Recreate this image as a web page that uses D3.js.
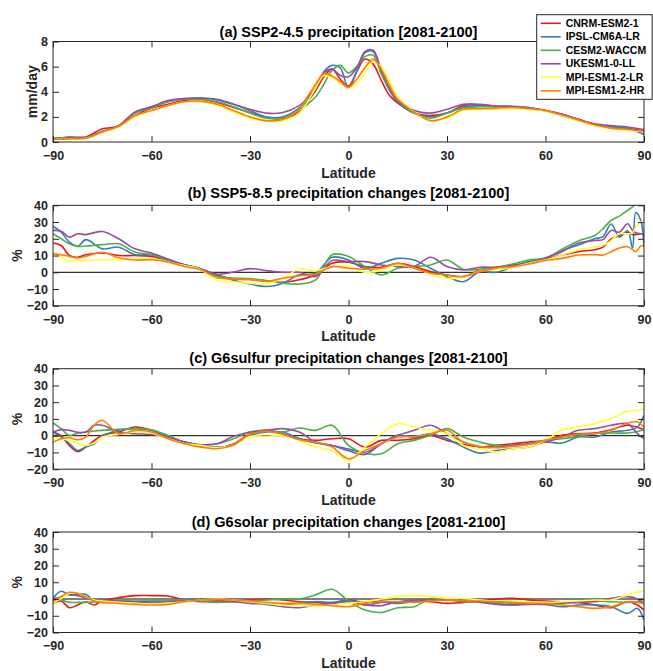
<!DOCTYPE html>
<html>
<head>
<meta charset="utf-8">
<script src="https://cdn.jsdelivr.net/npm/d3@7"></script>
<style>
  body { margin: 0; background: #fff; }
  text { font-family: "Liberation Sans", Arial, Helvetica, sans-serif; font-weight: bold; }
</style>
</head>
<body>
<svg id="chart" width="653" height="671"></svg>
<script>
var models = ["CNRM-ESM2-1", "IPSL-CM6A-LR", "CESM2-WACCM", "UKESM1-0-LL", "MPI-ESM1-2-LR", "MPI-ESM1-2-HR"];
var colors = ["#e41a1c", "#377eb8", "#4daf4a", "#984ea3", "#ffff33", "#ff7f00"];
var titles = ["(a) SSP2-4.5 precipitation [2081-2100]",
              "(b) SSP5-8.5 precipitation changes [2081-2100]",
              "(c) G6sulfur precipitation changes [2081-2100]",
              "(d) G6solar precipitation changes [2081-2100]"];
var yLabels = ["mm/day", "%", "%", "%"];
var xTicks = [-90, -60, -30, 0, 30, 60, 90];
var yTicksA = [0, 2, 4, 6, 8];
var yTicksPct = [-20, -10, 0, 10, 20, 30, 40];

// (a) absolute precipitation, mm/day
var latA = [-90,-85,-80,-75,-70,-65,-60,-55,-50,-45,-40,-35,-30,-25,-20,-15,
            -12.5,-10,-7.5,-5,-2.5,0,2.5,5,7.5,10,12.5,
            15,20,25,30,35,40,45,50,55,60,65,70,75,80,85,90];
var a_cnrm  = [0.25,0.4,0.4,1.05,1.25,2.1,2.7,3.0,3.3,3.4,3.15,2.75,2.35,1.95,1.85,2.4, 3.2,4.1,5.2,5.8,5.0,4.45,5.6,6.6,6.2,4.9,3.7, 3.1,2.3,2.1,2.3,2.9,2.95,2.85,2.8,2.7,2.5,2.2,1.8,1.4,1.2,1.1,0.9];
var a_ipsl  = [0.3,0.35,0.35,0.85,1.25,2.3,2.8,3.2,3.45,3.5,3.4,3.0,2.5,2.0,2.0,2.7, 3.3,4.3,5.6,6.1,5.9,4.3,5.6,7.1,7.2,5.5,4.1, 3.2,2.3,2.0,2.3,2.8,2.9,2.85,2.85,2.75,2.5,2.2,1.8,1.4,1.2,1.1,0.6];
var a_cesm  = [0.3,0.35,0.35,0.8,1.3,2.3,2.7,3.2,3.4,3.4,3.2,2.8,2.3,1.9,1.9,2.5, 3.0,3.6,4.6,5.7,6.1,5.5,6.0,6.8,6.9,5.4,4.2, 3.3,2.3,1.9,2.3,2.7,2.8,2.8,2.8,2.7,2.5,2.1,1.7,1.35,1.15,1.0,0.8];
var a_ukesm = [0.25,0.3,0.35,0.8,1.3,2.4,2.8,3.3,3.45,3.5,3.35,3.0,2.6,2.3,2.35,2.9, 3.5,4.3,5.5,5.8,5.3,5.2,5.9,7.2,7.3,5.7,4.3, 3.3,2.5,2.3,2.6,3.0,3.0,2.85,2.8,2.7,2.5,2.2,1.8,1.45,1.3,1.2,1.0];
var a_mpilr = [0.2,0.25,0.3,0.75,1.2,2.0,2.5,2.9,3.2,3.2,2.9,2.4,1.9,1.65,1.7,2.3, 3.2,4.3,5.3,5.1,4.7,4.3,4.7,5.5,6.4,6.0,4.8, 3.6,2.4,1.7,1.9,2.5,2.6,2.6,2.65,2.6,2.45,2.1,1.7,1.3,1.05,0.95,0.8];
var a_mpihr = [0.2,0.25,0.3,0.8,1.25,2.1,2.5,2.9,3.2,3.25,3.0,2.5,2.0,1.7,1.8,2.6, 3.6,4.6,5.45,5.25,4.8,4.35,5.0,5.9,6.6,5.8,4.5, 3.4,2.4,1.7,2.0,2.6,2.65,2.7,2.75,2.65,2.5,2.15,1.75,1.35,1.1,1.0,0.85];

// (b) SSP5-8.5 changes, %
var latB = [-90,-87.5,-85,-82.5,-80,
            -75,-70,-65,-60,-55,-50,-45,-40,-35,-30,-25,-20,-15,-10,-5,0,5,10,15,20,25,30,35,40,45,50,55,60,65,70,75,
            77.5,80,82.5,85,86.5,87.5,89,90];
var b_cnrm  = [17.5,16,10,9,10.5, 11.5,10,10,9.5,7,4.5,2,-1.5,-4,-4.3, -5,-6,-4.5,-1.5,5.4,6,3.4,3,5.4,3.4, 0.4,-1.6,-2.6,1.4,3,4.4,5.8,8,10.3,12.3, 13.5, 15,20,22,24,22.5,22.5,23,23];
var b_ipsl  = [27.5,24,18,15.5,19.5, 14,15,10.5,10.5,7.5,4.5,2,-1.8,-4.7,-7, -8.5,-6.5,-1.5,-0.5,9,7.3,2.4,5.4,8.3,7.3, 2.4,-2.6,-5.6,0.4,0,3.4,6.4,8.5,12.9,16.3, 20, 21.3,28.8,21,24.8,14.5,35.6,31,15.3];
var b_cesm  = [23,20,17,15.5,15.7, 16.5,17,12,10.7,7,4.5,2,-2.4,-3.4,-3.8, -5,-6.5,-7,-4.5,10.5,9.5,3.4,-1.6,2.4,3.4, 4.4,7.3,1.8,1.8,3,5,7.3,8.5,13.7,18.7, 22, 26,31,33.5,37,39,40.5,43,45];
var b_ukesm = [25,24.5,21,23,22.5, 24.4,20,14,11.5,8,4.5,2,-1.2,0.2,2.2, 1,0,0,-2.5,7,6.4,6.4,4.4,3.4,3.4, 9,3.4,1.4,3,3,3.8,5.4,8.5,12.3,17.3, 19, 19.5,25,24,29,25,23.6,23,23];
var b_mpilr = [11.5,9,6.6,7,7, 7.5,7.5,8,8,6.2,4,1.5,-4.7,-5.7,-6.5, -7,-3.5,2,1,3.4,3.8,0,1.4,4.4,2.4, -1,-3.6,-3,0.8,1.4,3,5.4,7.3,10.3,13.3, 15.3, 16,19,23,23,23.5,27,30,30];
var b_mpihr = [11,10.5,9.5,8.5,9.5, 12,8.7,7.3,7.5,6.2,3.5,1.5,-3.2,-4,-4.2, -5.5,-3.5,-2,-1,3.4,2.4,1.8,2.4,5.4,2.4, -0.6,-1.6,-2.6,0.4,2.5,3.4,5,7,8.3,10.3, 10.5, 10.3,12.3,14.5,15.3,13.5,12.3,15.7,15.7];

// (c) G6sulfur and (d) G6solar changes, %
var latCD = [-90,-87.5,-85,-82.5,-80,-77.5,
             -75,-70,-65,-60,-55,-50,-45,-40,-35,-30,-25,-20,-15,-10,-5,0,5,10,15,20,25,30,35,40,45,50,55,60,65,70,75,80,85,
             88,90];
var c_cnrm  = [2.2,0,-6,-9.5,-6.8,-3, 0.2,2.2,5.2,3.2,-0.8,-3.8,-5.8,-7.2,-5,1.2, 3.2,1.2,-1.8,-2.8,-1.8,-1.8,-6.8,-2.8,-2.8,-1.8, 0.2,-2.8,-5.2,-6.8,-5.8,-4.8,-3.8,-2.8,0.2,1.2, 1.6,3.6,6.2, 5,3.6];
var c_ipsl  = [2.2,-0.8,-4.8,-8.8,-6.8,-4.8, -0.4,3.2,4.2,3.2,-0.4,-3.8,-5.8,-6.8,-5.5,0.2, 2.2,2.2,-1.8,-4.4,-5.8,-8,-10,-4.8,0.2,-0.8, 1.2,-1.8,-6.8,-10.4,-8.8,-7.8,-6.8,-3.8,-4.4,-0.8, -0.8,2.2,3.2, 5.2,12.2];
var c_cesm  = [7.6,4.2,0.2,1.5,2.2,2.8, 3.2,3.8,4.2,3.6,0.2,-3.8,-5.4,-4.8,-1.8,2.2, 3.2,2.2,4.6,3.2,6.2,-5.8,-10.5,-10.8,-4.8,-2.8, 0.2,4.2,-0.8,-3.8,-5.8,-5.8,-4.8,-2.8,-1.8,-0.4, 1.2,1.6,1.6, 2.5,3.6];
var c_ukesm = [2.2,3.6,3.2,2,2.2,6.2, 6.2,2.2,1.2,0.8,-0.8,-3.8,-5.4,-4.8,-0.4,2.2, 3.2,4.2,2.2,-3.8,-5.8,-9,-11.2,-4.8,0.2,3.2, 6.2,1.2,-3.8,-6.8,-6.8,-5.8,-4.8,-3.8,-0.8,3.2, 4.2,6.2,7.2, 1.2,-1.8];
var c_mpilr = [-0.8,-1.8,-2.8,-4.5,-5.8,-4.4, -0.8,0.8,2.2,1.6,-1.8,-4.8,-5.8,-7.2,-5.5,-0.4, -0.4,0.2,-2.8,-6.8,-8.8,-14.8,-6.8,1.2,7.2,5.2, 3.2,1.2,-5.8,-7.8,-9.8,-7.8,-6.8,-2.8,3.2,5.2, 7.2,10.2,14.6, 15.2,15.8];
var c_mpihr = [-3.8,-1.8,-1.2,-2.4,-0.8,6.2, 9.2,1.2,3.2,2.2,-1.8,-4.8,-6.8,-7.8,-5.5,0.8, 2.6,0.8,-2.4,-3.8,-6.8,-13.8,-8.8,-4.8,-0.8,-0.4, 1.2,3.2,-3.8,-6.4,-7.2,-6.4,-5.2,-2.8,-0.8,0.8, 1.2,3.2,7.6, 8.2,5.2];

var d_cnrm  = [-2.6,-1.2,-5.2,-3.6,-1.6,-3.6, -1.2,0.8,2,2,1.8,-0.6,-1.6,-1.6,-1.6,-0.6, 0,-0.6,-1.6,-2,-2.6,-0.6,-2,-1.2,-2,-1.2, -1.6,-2.6,-2,-1.2,0,0.4,-0.6,-1.2,-1.6,-2, -3.6,-5.2,-1.6, -3.6,-6.6];
var d_ipsl  = [0.4,4.6,2.4,2.6,2.8,-1.2, -2,-1.2,-1.6,-1.2,-1.2,-0.6,0,-0.6,-1.2,-1.6, -2.6,-3.2,-2.6,-1.6,-2,-0.6,-3.6,-2,-2.6,-1.6, 0,-0.6,-1.2,-1.6,-2.6,-3.6,-2.6,-3.2,-4.6,-3.6, -3.6,-4.6,-8.6, -5.6,-12.6];
var d_cesm  = [1.4,-0.6,-2,-2,-2,-1.8, -1.6,-0.6,-0.6,-0.6,-0.6,-0.6,-1.2,-2,-1.6,-1.2, -0.6,0,0,2.5,5.8,-1.2,-6.6,-8,-5.2,-4.6, 0.4,0,-1.6,-1.6,-2,-2.6,-2.6,-2.6,-2,-1.6, -1.2,-1.6,-2, -1.5,-1.2];
var d_ukesm = [-0.6,1.4,2.8,2,0.8,-0.6, -0.6,-1.2,-1.6,-2,-1.6,-1.2,-0.6,-0.6,-1.6,-2.6, -3.2,-4.6,-5.2,-3.6,-2.6,-1.6,-3.5,-4,-1.6,-0.6, -0.6,-0.6,-1.2,-2,-3.2,-3.6,-3.2,-3.2,-2.6,-2, -1.6,0.4,1.4, 0,-3.2];
var d_mpilr = [-2.6,0.4,3.4,3.4,1.4,-0.6, -1.2,-2,-2.6,-3.2,-2.6,-1.6,-0.6,0,-0.6,-1.6, -2.6,-3.6,-4,-4.2,-3.6,-2.6,-1.6,0,1.4,2, 1.4,0.4,0.4,-0.6,-1.2,-1.2,-1.6,-2,-1.6,-1.2, -0.6,-0.6,2.4, 4,4.8];
var d_mpihr = [-1.6,1.4,4,3.4,1.4,-1.2, -2,-2.6,-3.2,-3.6,-3.2,-1.6,-0.6,-0.2,-0.6,-1.2, -2,-2.6,-2.6,-3.2,-4,-4.6,-2.6,-1.6,-1.6,-2, -1.2,-0.6,-1.2,-1.2,-1.6,-2,-2.6,-2.6,-3.6,-4.6, -5.6,-4.6,-1.6, -2,-2.6];

var panels = [
  { lat: latA,  series: [a_cnrm, a_ipsl, a_cesm, a_ukesm, a_mpilr, a_mpihr], yDomain: [0, 8],   yTicks: yTicksA,   zero: false },
  { lat: latB,  series: [b_cnrm, b_ipsl, b_cesm, b_ukesm, b_mpilr, b_mpihr], yDomain: [-20, 40], yTicks: yTicksPct, zero: true },
  { lat: latCD, series: [c_cnrm, c_ipsl, c_cesm, c_ukesm, c_mpilr, c_mpihr], yDomain: [-20, 40], yTicks: yTicksPct, zero: true },
  { lat: latCD, series: [d_cnrm, d_ipsl, d_cesm, d_ukesm, d_mpilr, d_mpihr], yDomain: [-20, 40], yTicks: yTicksPct, zero: true }
];

var svg = d3.select("#chart");
var axisColor = "#262626";
var left = 53, right = 644, panelH = 100.5;
var panelTop = [41.5, 205.3, 368.7, 532.0];
var titleY = [37, 198, 363, 526.5];
var yLabelX = [32, 17, 17, 17];

var x = d3.scaleLinear().domain([-90, 90]).range([left, right]);

function styleAxis(g) {
  g.select(".domain").remove();
  g.attr("color", axisColor)
   .attr("font-family", "Liberation Sans, Arial, Helvetica, sans-serif")
   .attr("font-size", 12.5)
   .attr("font-weight", "bold");
}

panels.forEach(function (p, i) {
  var top = panelTop[i], bottom = top + panelH;
  var y = d3.scaleLinear().domain(p.yDomain).range([bottom, top]);
  var g = svg.append("g");

  svg.append("clipPath").attr("id", "clip" + i)
    .append("rect").attr("x", left).attr("y", top)
    .attr("width", right - left).attr("height", panelH);

  if (p.zero) {
    g.append("line")
      .attr("x1", left).attr("x2", right)
      .attr("y1", y(0)).attr("y2", y(0))
      .attr("stroke", "#000").attr("stroke-width", 1);
  }

  var line = d3.line()
    .x(function (d, j) { return x(p.lat[j]); })
    .y(function (d) { return y(d); })
    .curve(d3.curveCatmullRom.alpha(0.5));

  g.append("g").attr("clip-path", "url(#clip" + i + ")")
    .selectAll("path")
    .data(p.series)
    .enter().append("path")
    .attr("d", line)
    .attr("fill", "none")
    .attr("stroke", function (d, k) { return colors[k]; })
    .attr("stroke-width", 1.6)
    .attr("stroke-linejoin", "round");

  // axes, ticks pointing inward like the original
  g.append("g").attr("transform", "translate(0," + bottom + ")")
    .call(d3.axisBottom(x).tickValues(xTicks).tickSize(-6).tickPadding(9))
    .call(styleAxis);
  g.append("g").attr("transform", "translate(0," + top + ")")
    .call(d3.axisTop(x).tickValues(xTicks).tickSize(-6).tickFormat(""))
    .call(styleAxis);
  g.append("g").attr("transform", "translate(" + left + ",0)")
    .call(d3.axisLeft(y).tickValues(p.yTicks).tickSize(-6).tickPadding(5))
    .call(styleAxis);
  g.append("g").attr("transform", "translate(" + right + ",0)")
    .call(d3.axisRight(y).tickValues(p.yTicks).tickSize(-6).tickFormat(""))
    .call(styleAxis);

  g.append("rect")
    .attr("x", left).attr("y", top)
    .attr("width", right - left).attr("height", panelH)
    .attr("fill", "none").attr("stroke", axisColor).attr("stroke-width", 1);

  g.append("text")
    .attr("x", (left + right) / 2).attr("y", titleY[i])
    .attr("text-anchor", "middle")
    .attr("font-size", 14.5)
    .attr("fill", "#000")
    .text(titles[i]);

  g.append("text")
    .attr("x", (left + right) / 2).attr("y", bottom + 35.5)
    .attr("text-anchor", "middle")
    .attr("font-size", 14)
    .attr("fill", axisColor)
    .text("Latitude");

  g.append("text")
    .attr("transform", "translate(" + yLabelX[i] + "," + (top + panelH / 2) + ") rotate(-90)")
    .attr("text-anchor", "middle")
    .attr("dy", "0.35em")
    .attr("font-size", 14)
    .attr("fill", axisColor)
    .text(yLabels[i]);
});

// legend over panel (a)
var legend = svg.append("g").attr("transform", "translate(536.7,14.7)");
legend.append("rect")
  .attr("width", 115.5).attr("height", 84.6)
  .attr("fill", "#fff").attr("stroke", axisColor).attr("stroke-width", 1);
var item = legend.selectAll(".item").data(models).enter().append("g")
  .attr("transform", function (d, i) { return "translate(0," + (8.6 + i * 13.5) + ")"; });
item.append("line")
  .attr("x1", 4).attr("x2", 24)
  .attr("stroke", function (d, i) { return colors[i]; })
  .attr("stroke-width", 1.6);
item.append("text")
  .attr("x", 29).attr("dy", "0.35em")
  .attr("font-size", 10.5)
  .attr("fill", "#000")
  .text(function (d) { return d; });
</script>
</body>
</html>
